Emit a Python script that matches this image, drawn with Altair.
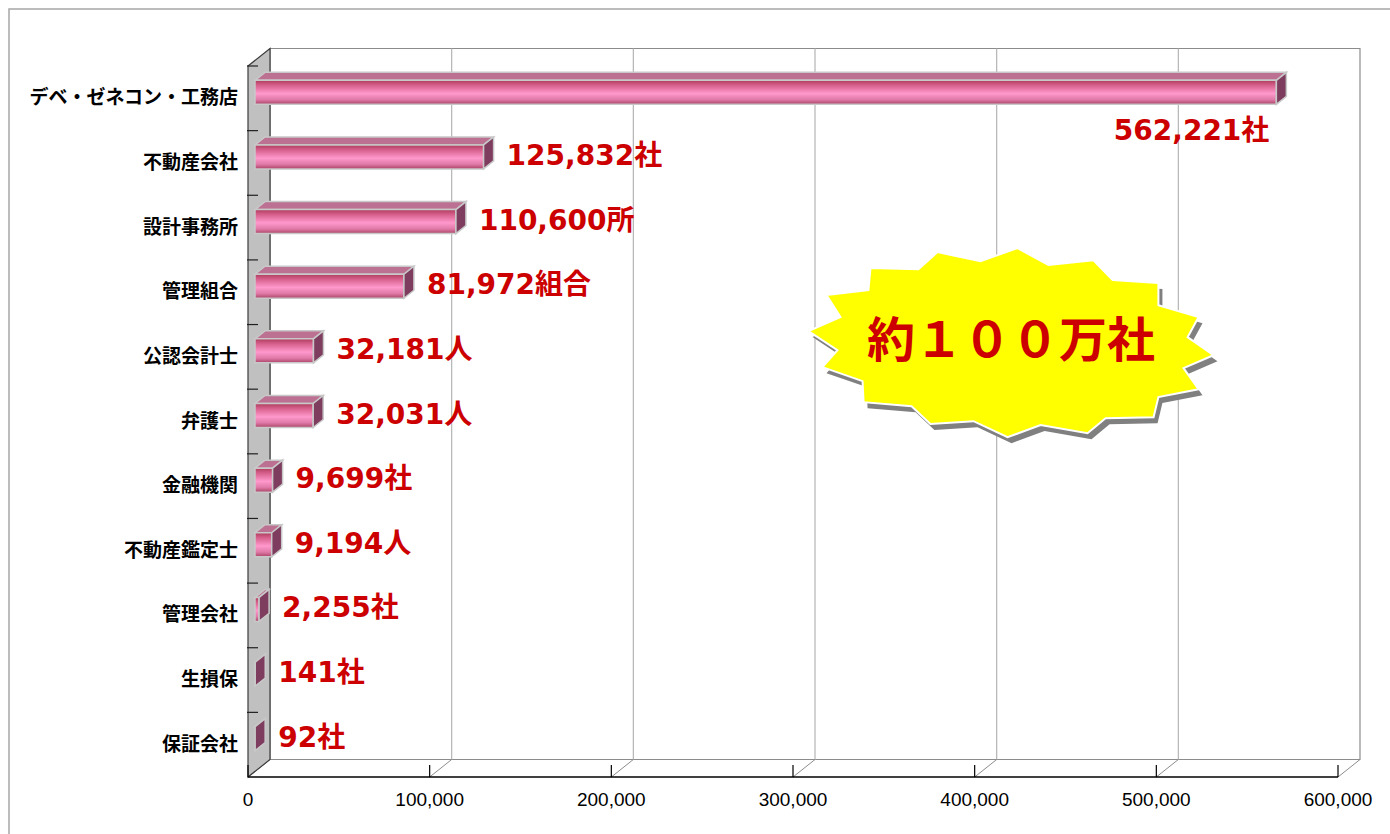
import altair as alt
import pandas as pd

# ---------------- data ----------------
categories = ["デベ・ゼネコン・工務店", "不動産会社", "設計事務所", "管理組合", "公認会計士",
              "弁護士", "金融機関", "不動産鑑定士", "管理会社", "生損保", "保証会社"]
values = [562221, 125832, 110600, 81972, 32181, 32031, 9699, 9194, 2255, 141, 92]
units = ["社", "社", "所", "組合", "人", "人", "社", "人", "社", "社", "社"]
x_ticks = [0, 100000, 200000, 300000, 400000, 500000, 600000]
callout_text = "約１００万社"
callout_value = 420000
callout_row = 4.28

# starburst outline (normalised symbol shape, -1..1)
star_x = [-0.694, -0.457, -0.363, -0.151, 0.032, 0.185, 0.407, 0.502, 0.728, 0.728, 0.926, 0.872,
          1.0, 0.852, 0.926, 0.728, 0.704, 0.467, 0.378, 0.146, -0.017, -0.185, -0.398, -0.491,
          -0.728, -0.733, -0.931, -0.857, -1.0, -0.842, -0.911, -0.704]
star_y = [-0.368, -0.363, -0.447, -0.402, -0.467, -0.383, -0.407, -0.309, -0.294, -0.185, -0.126, -0.027,
          0.062, 0.126, 0.230, 0.269, 0.368, 0.373, 0.447, 0.407, 0.467, 0.388, 0.402, 0.314,
          0.294, 0.190, 0.121, 0.037, -0.057, -0.126, -0.235, -0.259]

# ---------------- layout constants ----------------
W, H = 1390, 834
X0, X1 = 248, 1338
Y0, Y1 = 66, 777
XMAX = 600000
N = len(categories)
SX = (X1 - X0) / XMAX
SY = (Y1 - Y0) / N
WALL_DX, WALL_DY = 22, 17.5
BAR_DX, BAR_DY = 10, 8
BAR_OX, BAR_OY = 7, -6
BAR_HALF = 12 / SY

xs = alt.Scale(domain=[0, XMAX], range=[X0, X1], nice=False, zero=False)
ys = alt.Scale(domain=[0, N], range=[Y0, Y1], nice=False, zero=False)

wdx = WALL_DX / SX
wdy = WALL_DY / SY

# ---------------- geometry tables ----------------
rows_front, rows_top, rows_cap, rows_lab = [], [], [], []
for i, (c, v, u) in enumerate(zip(categories, values, units)):
    ox = BAR_OX / SX
    cy = i + 0.5 + BAR_OY / SY
    bdx = BAR_DX / SX
    bdy = BAR_DY / SY
    rows_front.append({"cat": c, "x": ox, "x2": v + ox, "y": cy - BAR_HALF, "y2": cy + BAR_HALF})
    rows_top.append({"cat": c, "y": cy - BAR_HALF, "xa": ox, "xb": v + ox})
    rows_top.append({"cat": c, "y": cy - BAR_HALF - bdy, "xa": ox + bdx, "xb": v + ox + bdx})
    rows_cap.append({"cat": c, "x": v + ox, "ya": cy - BAR_HALF, "yb": cy + BAR_HALF})
    rows_cap.append({"cat": c, "x": v + ox + bdx, "ya": cy - BAR_HALF - bdy, "yb": cy + BAR_HALF - bdy})
    rows_lab.append({"idx": i, "cat": c, "value": v, "row": i + 0.5, "label": f"{v:,}{u}"})

front_df = pd.DataFrame(rows_front)
top_df = pd.DataFrame(rows_top)
cap_df = pd.DataFrame(rows_cap)
lab_df = pd.DataFrame(rows_lab)

wall_df = pd.DataFrame({"x": [0, wdx], "ya": [0, -wdy], "yb": [N, N - wdy]})
back_df = pd.DataFrame({"x": [wdx], "x2": [XMAX + wdx], "y": [-wdy], "y2": [N - wdy]})
grid_df = pd.DataFrame({"x": [t + wdx for t in x_ticks[1:-1]], "y": -wdy, "y2": N - wdy})
floor_df = pd.DataFrame({"x": x_ticks, "x2": [t + wdx for t in x_ticks], "y": N, "y2": N - wdy})
tick_df = pd.DataFrame({"x": x_ticks, "y": N, "y2": N - 12 / SY,
                        "label": [f"{t:,}" for t in x_ticks]})
bound_df = pd.DataFrame({"b": list(range(N))})
star_df = pd.DataFrame({"x": [callout_value], "y": [callout_row], "t": [callout_text]})

star_path = "M" + " L".join(f"{a:.3f},{b:.3f}" for a, b in zip(star_x, star_y)) + " Z"
STAR_SIZE = 405 ** 2

X = lambda f: alt.X(f, scale=xs, axis=None)
Y = lambda f: alt.Y(f, scale=ys, axis=None)

frame = alt.Chart(alt.Data(values=[{}])).mark_rect(
    fillOpacity=0, stroke="#a6a6a6", strokeWidth=1.5
).encode(x=alt.value(9), x2=alt.value(1400), y=alt.value(9), y2=alt.value(850))

back = alt.Chart(back_df).mark_rect(fill="white", stroke="#8c8c8c", strokeWidth=1.2).encode(
    x=X("x:Q"), x2="x2:Q", y=Y("y:Q"), y2="y2:Q")

grid = alt.Chart(grid_df).mark_rule(color="#b4b4b4", strokeWidth=1.2).encode(
    x=X("x:Q"), y=Y("y:Q"), y2="y2:Q")

floor = alt.Chart(floor_df).mark_rule(color="#8c8c8c", strokeWidth=1).encode(
    x=X("x:Q"), x2="x2:Q", y=Y("y:Q"), y2="y2:Q")

wall = alt.Chart(wall_df).mark_area(orient="vertical", fill="#c0c0c0", stroke="#3c3c3c",
                                    strokeWidth=1.2).encode(
    x=alt.X("x:Q", scale=xs, axis=None, stack=None),
    y=alt.Y("ya:Q", scale=ys, axis=None, stack=None), y2="yb:Q")

axis_line = alt.Chart(alt.Data(values=[{"a": 0, "b": XMAX, "y": N}])).mark_rule(
    color="black", strokeWidth=1.5).encode(x=X("a:Q"), x2="b:Q", y=Y("y:Q"))

xticks = alt.Chart(tick_df).mark_rule(color="black", strokeWidth=1.2).encode(
    x=X("x:Q"), y=Y("y:Q"), y2="y2:Q")

xlabels = alt.Chart(tick_df).mark_text(
    font="Liberation Sans", fontSize=19, color="black", align="center", baseline="middle"
).encode(x=X("x:Q"), y=alt.value(800), text="label:N")

bounds = alt.Chart(bound_df).mark_rule(color="#202020", strokeWidth=1.2).encode(
    x=alt.value(247), x2=alt.value(258), y=Y("b:Q"))

cat_labels = alt.Chart(lab_df).mark_text(
    font="Noto Sans CJK JP", fontWeight="bold", fontSize=19, color="black",
    align="right", baseline="middle"
).encode(x=alt.value(238), y=Y("row:Q"), text="cat:N")

front_grad = alt.LinearGradient(
    gradient="linear", x1=0, x2=0, y1=0, y2=1,
    stops=[alt.GradientStop(color="#b03c5e", offset=0),
           alt.GradientStop(color="#d8628e", offset=0.22),
           alt.GradientStop(color="#ff98cc", offset=0.55),
           alt.GradientStop(color="#e07aa8", offset=0.8),
           alt.GradientStop(color="#ac4466", offset=1)])

top_face = alt.Chart(top_df).mark_area(orient="horizontal", fill="#bc7092", stroke="#c8c8c8",
                                       strokeWidth=1.5).encode(
    y=alt.Y("y:Q", scale=ys, axis=None, stack=None),
    x=alt.X("xa:Q", scale=xs, axis=None, stack=None), x2="xb:Q", detail="cat:N")

front_face = alt.Chart(front_df).mark_rect(fill=front_grad, stroke="#c8c8c8", strokeWidth=1.5).encode(
    x=X("x:Q"), x2="x2:Q", y=Y("y:Q"), y2="y2:Q")

cap_face = alt.Chart(cap_df).mark_area(orient="vertical", fill="#7e3c5e", stroke="#c8c8c8",
                                       strokeWidth=1.5).encode(
    x=alt.X("x:Q", scale=xs, axis=None, stack=None),
    y=alt.Y("ya:Q", scale=ys, axis=None, stack=None), y2="yb:Q", detail="cat:N")

val_labels = alt.Chart(lab_df).transform_filter("datum.idx > 0").mark_text(
    font="DejaVu Sans, Noto Sans CJK JP", fontWeight="bold", fontSize=28, color="#cc0000",
    align="left", baseline="middle", dx=30, dy=-6
).encode(x=X("value:Q"), y=Y("row:Q"), text="label:N")

big_label = alt.Chart(lab_df).transform_filter("datum.idx == 0").mark_text(
    font="DejaVu Sans, Noto Sans CJK JP", fontWeight="bold", fontSize=28, color="#cc0000",
    align="right", baseline="middle", dx=0, dy=34
).encode(x=X("value:Q"), y=Y("row:Q"), text="label:N")

star_shadow = alt.Chart(star_df).mark_point(
    shape=star_path, size=STAR_SIZE, filled=True, fill="#808080", opacity=1,
    strokeWidth=0, xOffset=4, yOffset=6
).encode(x=X("x:Q"), y=Y("y:Q"))

star = alt.Chart(star_df).mark_point(
    shape=star_path, size=STAR_SIZE, filled=True, fill="#ffff00", opacity=1,
    stroke="white", strokeWidth=2
).encode(x=X("x:Q"), y=Y("y:Q"))

star_text = alt.Chart(star_df).mark_text(
    font="Noto Sans CJK JP", fontWeight="bold", fontSize=48, color="#cc0000",
    align="center", baseline="middle"
).encode(x=X("x:Q"), y=Y("y:Q"), text="t:N")

chart = alt.layer(
    frame, back, grid, floor, wall, axis_line, xticks, xlabels, bounds, cat_labels,
    top_face, front_face, cap_face, star_shadow, star, star_text, val_labels, big_label
).properties(
    width=W, height=H, autosize=alt.AutoSizeParams(type="none"), padding=0, background="white"
).configure_view(stroke=None)

chart.save("out.html", embed_options={"renderer": "svg", "actions": False})
